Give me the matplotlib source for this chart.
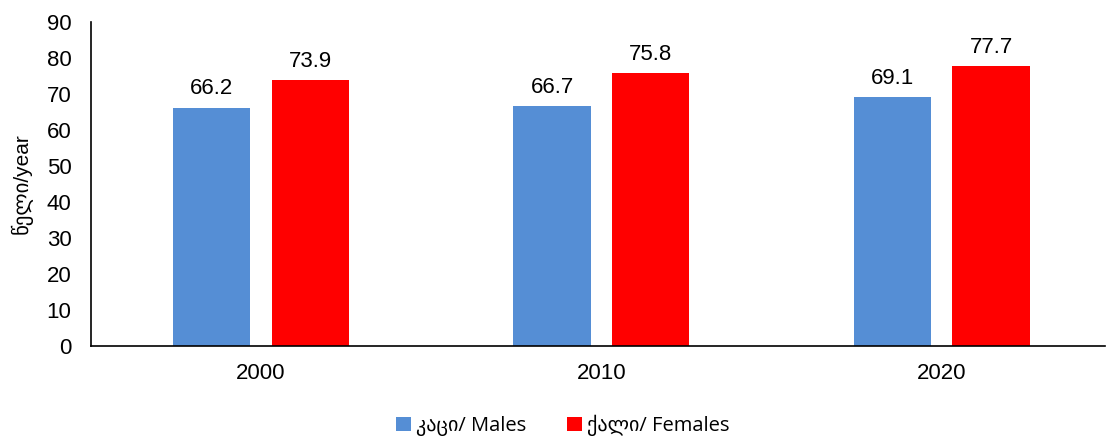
import numpy as np
import matplotlib.pyplot as plt

plt.rcParams['font.family'] = ['Liberation Sans', 'DejaVu Sans']

years = ['2000', '2010', '2020']
males = [66.2, 66.7, 69.1]
females = [73.9, 75.8, 77.7]
male_label = 'კაცი/ Males'
female_label = 'ქალი/ Females'

fig = plt.figure(figsize=(11.12, 4.41), dpi=100)
ax = fig.add_axes([0.0818, 0.2154, 0.912, 0.735])

x = np.arange(len(years))
w = 0.227
off = 0.145
b1 = ax.bar(x - off, males, w, color='#558ed5', label=male_label)
b2 = ax.bar(x + off, females, w, color='#ff0000', label=female_label)

for bars in (b1, b2):
    for r in bars:
        ax.text(r.get_x() + r.get_width() / 2, r.get_height() + 2.3, f'{r.get_height():.1f}',
                ha='center', va='bottom', fontsize=16)

ax.set_xlim(-0.5, 2.48)
ax.set_ylim(0, 90)
ax.set_yticks(range(0, 91, 10))
ax.set_xticks(x)
ax.set_xticklabels(years)
ax.tick_params(axis='both', length=0, labelsize=16)
ax.tick_params(axis='x', pad=12)
ax.tick_params(axis='y', pad=14)
ax.spines['top'].set_visible(False)
ax.spines['right'].set_visible(False)
ax.spines['left'].set_linewidth(1.2)
ax.spines['bottom'].set_linewidth(1.2)
ax.set_ylabel('წელი/year', fontsize=15)
ax.yaxis.set_label_coords(-0.058, 0.5)

ax.legend(loc='center', bbox_to_anchor=(0.465, -0.245), ncol=2, frameon=False,
          handlelength=0.75, handleheight=0.75, handletextpad=0.25, columnspacing=2.0,
          prop={'family': ['Open Sans', 'DejaVu Sans'], 'size': 14.5})

fig.savefig('out.png', dpi=100)
